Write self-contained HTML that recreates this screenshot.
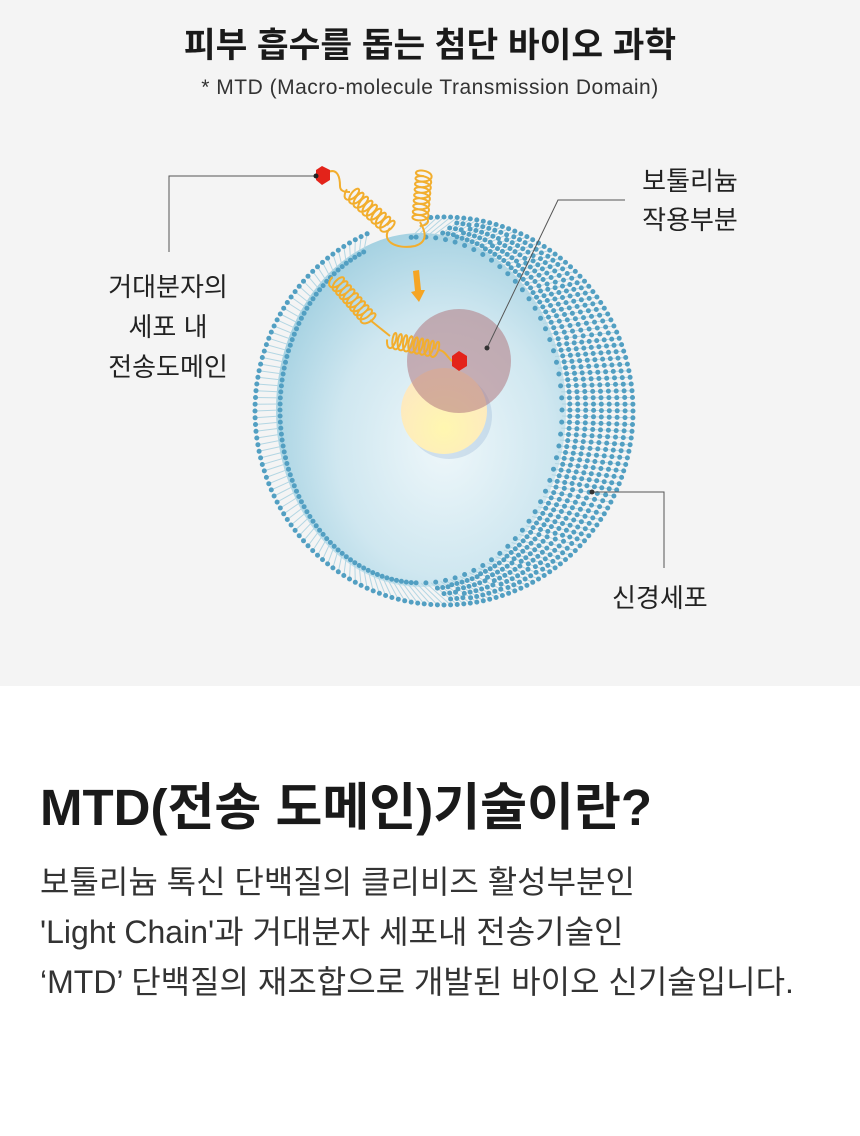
<!DOCTYPE html>
<html><head><meta charset="utf-8"><style>
*{margin:0;padding:0;box-sizing:border-box}
body{width:860px;height:1136px;background:#fff;font-family:"Liberation Sans","Noto Sans CJK KR",sans-serif;color:#222;position:relative;overflow:hidden}
.top{position:absolute;left:0;top:0;width:860px;height:686px;background:#f4f4f4}
.t{position:absolute;white-space:nowrap}
</style></head><body>
<div class="top"></div>
<div class="t" style="left:0;width:860px;text-align:center;top:17px;font-size:34.5px;font-weight:bold;color:#1a1a1a">피부 흡수를 돕는 첨단 바이오 과학</div>
<div class="t" style="left:0;width:860px;text-align:center;top:76px;font-size:21px;letter-spacing:0.5px;color:#333">* MTD (Macro-molecule Transmission Domain)</div>
<svg id="s" width="860" height="686" style="position:absolute;left:0;top:0">
<defs>
<radialGradient id="cg" cx="0.58" cy="0.6" r="0.62"><stop offset="0" stop-color="#eef7fa"/><stop offset="0.6" stop-color="#cfe7f0"/><stop offset="1" stop-color="#a6d2e2"/></radialGradient>
<radialGradient id="yg" cx="0.5" cy="0.7" r="0.6"><stop offset="0" stop-color="#fff7b0"/><stop offset="1" stop-color="#fde9c0"/></radialGradient>
</defs>
<g id="cell"></g>
<circle cx="449" cy="416" r="43" fill="#9bb8d8" opacity="0.35"/>
<circle cx="444" cy="411" r="43" fill="url(#yg)"/>
<circle cx="459" cy="361" r="52" fill="#b07880" opacity="0.55"/>
<g id="spr" fill="none" stroke="#f2ae2e" stroke-width="2"></g>
<polygon points="413,271 419,270 421,290 425,290 419,302 411,292 415,291" fill="#f5a524"/>
<polygon points="316,170 322,166 330,170 330,180 322,185 316,180" fill="#e3231a"/>
<polygon points="452,356 459,351 467,356 467,366 459,371 452,366" fill="#e3231a"/>
<g stroke="#555" stroke-width="1" fill="none">
<polyline points="169,252 169,176 316,176"/>
<polyline points="487,348 558,200 625,200"/>
<polyline points="592,492 664,492 664,568"/>
</g>
<circle cx="316" cy="176" r="2.5" fill="#222"/>
<circle cx="487" cy="348" r="2.5" fill="#333"/>
<circle cx="592" cy="492" r="2.5" fill="#333"/>
</svg>
<div class="t" style="left:68px;width:200px;text-align:center;top:267px;font-size:26px;line-height:40px;color:#222">거대분자의<br>세포 내<br>전송도메인</div>
<div class="t" style="left:590px;width:200px;text-align:center;top:162px;font-size:26px;line-height:39px;color:#222">보툴리늄<br>작용부분</div>
<div class="t" style="left:612px;top:578px;font-size:26px;color:#222">신경세포</div>
<div class="t" style="left:40px;top:766px;font-size:51px;font-weight:bold;color:#1a1a1a">MTD(전송 도메인)기술이란?</div>
<div class="t" style="left:40px;top:857px;font-size:32px;line-height:50px;color:#333">보툴리늄 톡신 단백질의 클리비즈 활성부분인<br>'Light Chain'과 거대분자 세포내 전송기술인<br>‘MTD’ 단백질의 재조합으로 개발된 바이오 신기술입니다.</div>
<script>
(function(){
var NS="http://www.w3.org/2000/svg",g=document.getElementById("cell");
function el(n,a){var e=document.createElementNS(NS,n);for(var k in a)e.setAttribute(k,a[k]);return e;}
var O={cx:444,cy:411,rx:189,ry:194},I={cx:421,cy:410,rx:141,ry:173};
g.appendChild(el("ellipse",{cx:I.cx,cy:I.cy,rx:I.rx+4,ry:I.ry+4,fill:"url(#cg)"}));
var N=180,tails="",dots="";
for(var i=0;i<N;i++){
 var a=2*Math.PI*i/N;
 var px=O.cx+O.rx*Math.cos(a),py=O.cy+O.ry*Math.sin(a);
 var qx=I.cx+I.rx*Math.cos(a),qy=I.cy+I.ry*Math.sin(a);
 if(py<250&&px>372&&px<428)continue;
 var d=Math.hypot(px-qx,py-qy);
 tails+="M"+px.toFixed(1)+","+py.toFixed(1)+"L"+qx.toFixed(1)+","+qy.toFixed(1);
 dots+="M"+px.toFixed(1)+","+py.toFixed(1)+"h0.01";
 if(i%2==0||d<30)dots+="M"+qx.toFixed(1)+","+qy.toFixed(1)+"h0.01";
 if(d>34){var n=Math.floor(d/7.5);for(var k=1;k<n;k++){var t=k/n;
  var x=px+(qx-px)*t,y=py+(qy-py)*t;dots+="M"+x.toFixed(1)+","+y.toFixed(1)+"h0.01";}}
}
g.appendChild(el("path",{d:tails,stroke:"#b3d6e3","stroke-width":1,fill:"none"}));
g.appendChild(el("path",{d:dots,stroke:"#529fc2","stroke-width":5,"stroke-linecap":"round",fill:"none"}));
var sp=document.getElementById("spr");
function coil(ax,ay,bx,by,n,w,amp){
 var dx=bx-ax,dy=by-ay,L=Math.hypot(dx,dy),ux=dx/L,uy=dy/L,vx=-uy,vy=ux,s="";
 for(var j=0;j<=n*24;j++){var t=j/(n*24),ph=2*Math.PI*n*t;
  var al=L*t-w*Math.cos(ph),pe=amp*Math.sin(ph);
  var x=ax+ux*al+vx*pe,y=ay+uy*al+vy*pe;s+=(j?"L":"M")+x.toFixed(1)+","+y.toFixed(1);}
 sp.appendChild(el("path",{d:s}));
}
sp.appendChild(el("path",{d:"M328,172 C338,168 340,178 340,186 C340,192 346,192 350,192"}));
coil(350,192,390,228,9,4,8);
sp.appendChild(el("path",{d:"M390,228 C380,240 395,250 415,246 C428,242 426,232 420,222"}));
coil(420,222,424,172,9,4,8);
coil(335,280,370,320,10,4,8);
sp.appendChild(el("path",{d:"M370,320 L390,336"}));
coil(390,340,438,350,9,3,8);
sp.appendChild(el("path",{d:"M438,350 C446,350 448,360 454,362"}));
})();
</script>
</body></html>
